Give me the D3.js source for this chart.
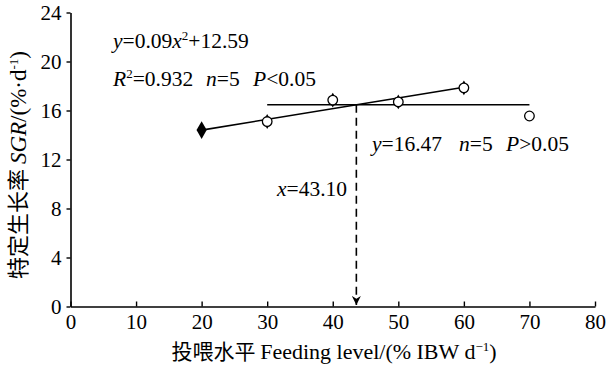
<!DOCTYPE html>
<html>
<head>
<meta charset="utf-8">
<script src="https://d3js.org/d3.v7.min.js"></script>
<style>
  body { margin: 0; background: #fff; }
  svg text { font-family: "Liberation Serif", "Tinos", "Times New Roman", "DejaVu Serif", serif; fill: #000; white-space: pre; }
  .cjk { font-family: "Noto Sans CJK SC", sans-serif; }
</style>
</head>
<body>
<script>
// data
var levels = [20, 30, 40, 50, 60, 70];
var sgr = [14.4, 15.1, 16.85, 16.7, 17.85, 15.55];
var xTicks = [0, 10, 20, 30, 40, 50, 60, 70, 80];
var yTicks = [0, 4, 8, 12, 16, 20, 24];
var fitLine = [[20, 14.4], [60, 17.9]];      // rising broken-line segment
var plateau = [[30, 16.47], [70, 16.47]];    // y=16.47
var breakX = 43.6;                            // drawn position of x=43.10

var w = 607, h = 365;
var serif = '"Liberation Serif", "Tinos", "Times New Roman", "DejaVu Serif", serif';
var svg = d3.select("body").append("svg").attr("width", w).attr("height", h);

var x = d3.scaleLinear().domain([0, 80]).range([70.5, 595]);
var y = d3.scaleLinear().domain([0, 24]).range([306.5, 12.5]);

// axes
var xAxis = svg.append("g").attr("transform", "translate(0," + y(0) + ")")
  .call(d3.axisBottom(x).tickValues(xTicks).tickSizeInner(-5).tickSizeOuter(0).tickPadding(6));
var yAxis = svg.append("g").attr("transform", "translate(" + x(0) + ",0)")
  .call(d3.axisLeft(y).tickValues(yTicks).tickSizeInner(4).tickSizeOuter(0).tickPadding(5));
[xAxis, yAxis].forEach(function(g) {
  g.attr("font-family", null);
  g.select(".domain").attr("stroke", "#000").attr("stroke-width", 1.6);
  g.selectAll(".tick line").attr("stroke", "#000").attr("stroke-width", 1.4);
  g.selectAll(".tick text").style("font-family", serif).style("font-size", "21px").attr("fill", "#000");
});
xAxis.selectAll(".tick text").attr("dy", "0.8em");
yAxis.selectAll(".tick text").attr("dy", "0.35em");

var line = d3.line().x(function(d) { return x(d[0]); }).y(function(d) { return y(d[1]); });

svg.append("path").attr("d", line(plateau)).attr("stroke", "#000").attr("stroke-width", 1.6).attr("fill", "none");
svg.append("path").attr("d", line(fitLine)).attr("stroke", "#000").attr("stroke-width", 1.6).attr("fill", "none");

// dashed arrow
svg.append("defs").append("marker").attr("id", "arr")
  .attr("viewBox", "0 0 10 10").attr("refX", 10).attr("refY", 5)
  .attr("markerWidth", 13).attr("markerHeight", 9).attr("markerUnits", "userSpaceOnUse")
  .attr("orient", "auto")
  .append("path").attr("d", "M0,0 L10,5 L0,10 L3,5 Z").attr("fill", "#000");
svg.append("line")
  .attr("x1", x(breakX)).attr("x2", x(breakX))
  .attr("y1", y(16.47)).attr("y2", y(0) - 1.5)
  .attr("stroke", "#000").attr("stroke-width", 1.6)
  .attr("stroke-dasharray", "8,5")
  .attr("marker-end", "url(#arr)");

// markers
var pts = levels.map(function(l, i) { return [l, sgr[i]]; });
var diamond = d3.symbol().type(d3.symbolDiamond).size(45);
svg.selectAll(".dia").data(pts.slice(1, 5)).enter().append("path")
  .attr("d", diamond).attr("transform", function(d) { return "translate(" + x(d[0]) + "," + y(d[1]) + ")"; })
  .attr("fill", "#fff").attr("stroke", "#000").attr("stroke-width", 1.2);
svg.selectAll(".circ").data(pts.slice(1)).enter().append("circle")
  .attr("cx", function(d) { return x(d[0]); }).attr("cy", function(d) { return y(d[1]); })
  .attr("r", 4.8).attr("fill", "#fff").attr("stroke", "#000").attr("stroke-width", 1.3);
svg.append("path").attr("d", d3.symbol().type(d3.symbolDiamond).size(90))
  .attr("transform", "translate(" + x(pts[0][0]) + "," + y(pts[0][1]) + ")")
  .attr("fill", "#000");

// annotations: each part may carry its own x position
function eq(tx, ty, parts) {
  var t = svg.append("text").attr("x", tx).attr("y", ty).style("font-size", "21.5px");
  parts.forEach(function(p) {
    var s = t.append("tspan").text(p[0]);
    if (p[1] === "i") s.style("font-style", "italic");
    if (p[1] === "sup") s.attr("dy", -8).style("font-size", "13px");
    if (p[1] === "down") s.attr("dy", 8);
    if (p[2] != null) s.attr("x", p[2]);
  });
  return t;
}
eq(113, 48, [["y", "i"], ["=0.09"], ["x", "i"], ["2", "sup"], ["+12.59", "down"]]);
eq(113, 86, [["R", "i"], ["2", "sup"], ["=0.932", "down"], ["n", "i", 206], ["=5"], ["P", "i", 253], ["<0.05"]]);
eq(372, 151, [["y", "i"], ["=16.47"], ["n", "i", 459], ["=5"], ["P", "i", 506], [">0.05"]]);
eq(277, 196, [["x", "i"], ["=43.10"]]);

// axis titles
var xt = svg.append("text").attr("x", 334).attr("y", 359).attr("text-anchor", "middle").style("font-size", "22px");
xt.append("tspan").attr("class", "cjk").style("font-size", "21px").text("投喂水平 ");
xt.append("tspan").text("Feeding level/(% IBW d");
xt.append("tspan").attr("dy", -8).style("font-size", "13px").text("−1");
xt.append("tspan").attr("dy", 8).text(")");

var yt = svg.append("text").attr("transform", "translate(26,165) rotate(-90)").attr("text-anchor", "middle").style("font-size", "23px");
yt.append("tspan").attr("class", "cjk").style("font-size", "22px").text("特定生长率 ");
yt.append("tspan").style("font-style", "italic").text("SGR");
yt.append("tspan").text("/(%·d");
yt.append("tspan").attr("dy", -8).style("font-size", "13px").text("-1");
yt.append("tspan").attr("dy", 8).text(")");
</script>
</body>
</html>
